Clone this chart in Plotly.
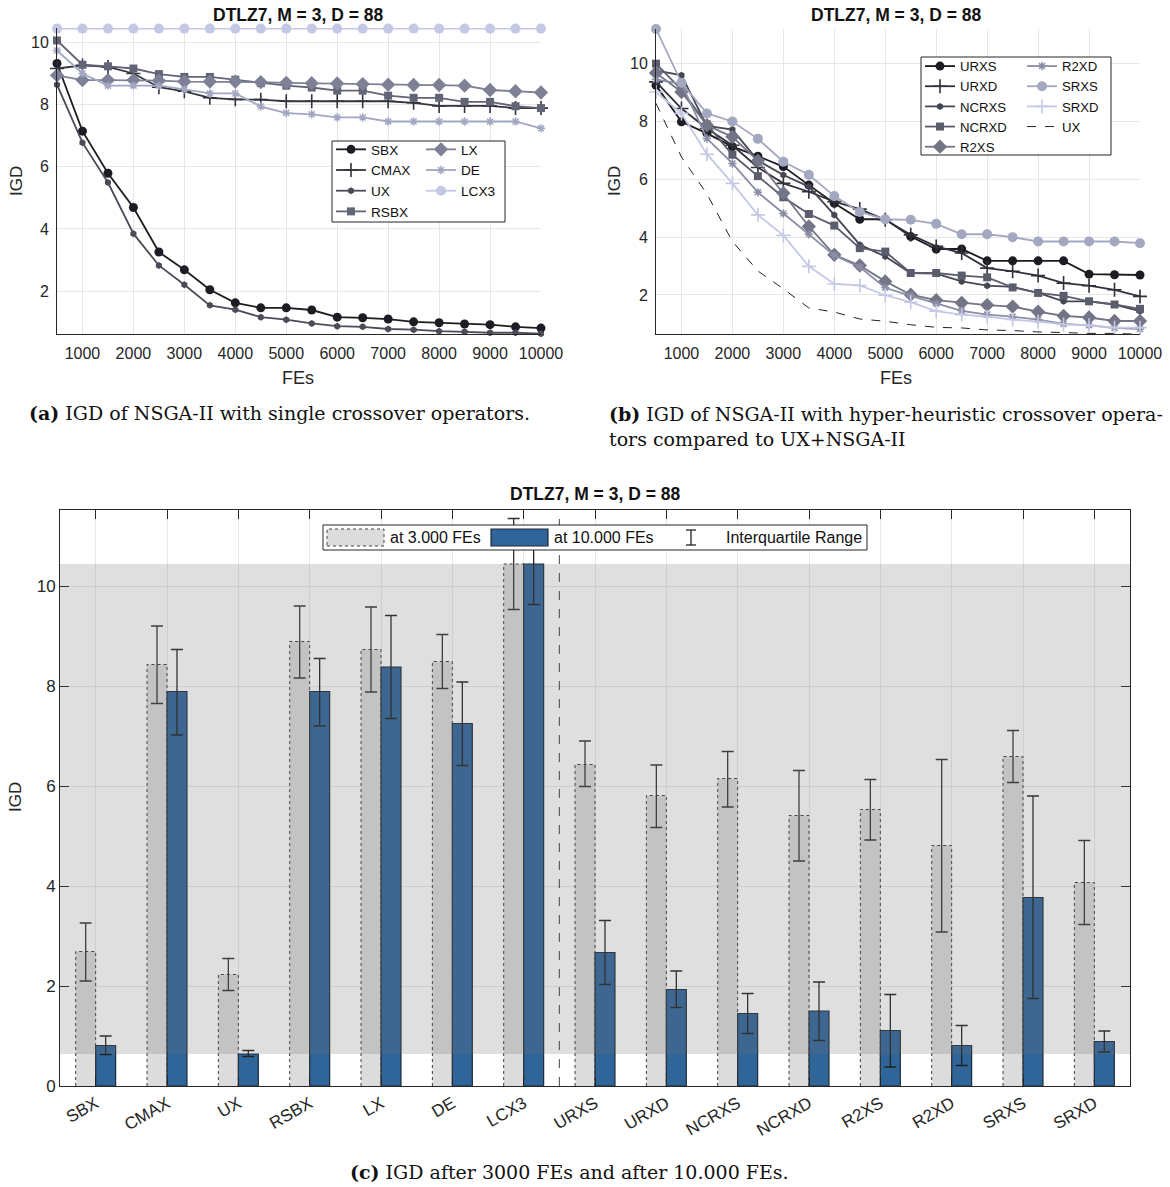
import plotly.graph_objects as go

W, H = 1170, 1187

# ---------------- data ----------------
fes = [500, 1000, 1500, 2000, 2500, 3000, 3500, 4000, 4500, 5000,
       5500, 6000, 6500, 7000, 7500, 8000, 8500, 9000, 9500, 10000]

# panel (a): single crossover operators
sbx = [9.31, 7.14, 5.79, 4.69, 3.26, 2.69, 2.05, 1.63, 1.47, 1.47, 1.40, 1.17, 1.15, 1.11, 1.02, 0.99, 0.95, 0.93, 0.86, 0.82]
cmax = [9.15, 9.25, 9.20, 8.99, 8.55, 8.42, 8.21, 8.16, 8.15, 8.10, 8.10, 8.10, 8.10, 8.10, 8.05, 7.95, 7.95, 7.95, 7.88, 7.88]
ux = [8.63, 6.77, 5.49, 3.85, 2.83, 2.21, 1.55, 1.41, 1.17, 1.09, 0.97, 0.88, 0.86, 0.79, 0.77, 0.72, 0.70, 0.67, 0.67, 0.64]
rsbx = [10.05, 9.27, 9.22, 9.15, 8.97, 8.88, 8.88, 8.79, 8.68, 8.60, 8.54, 8.44, 8.44, 8.28, 8.21, 8.21, 8.08, 8.08, 7.94, 7.88]
lx = [8.93, 8.78, 8.78, 8.78, 8.76, 8.73, 8.73, 8.73, 8.71, 8.69, 8.68, 8.67, 8.65, 8.63, 8.62, 8.62, 8.60, 8.46, 8.42, 8.38]
de = [9.73, 8.99, 8.60, 8.60, 8.60, 8.48, 8.35, 8.35, 7.93, 7.72, 7.68, 7.58, 7.58, 7.45, 7.45, 7.45, 7.45, 7.45, 7.45, 7.23]
lcx3 = [10.43, 10.43, 10.43, 10.43, 10.43, 10.43, 10.43, 10.43, 10.43, 10.43,
        10.43, 10.43, 10.43, 10.43, 10.43, 10.43, 10.43, 10.43, 10.43, 10.43]

# panel (b): hyper-heuristic crossover operators
urxs = [9.25, 7.99, 7.59, 7.13, 6.80, 6.44, 5.80, 5.17, 4.62, 4.62, 4.02, 3.59, 3.59, 3.18, 3.18, 3.18, 3.18, 2.72, 2.70, 2.69]
urxd = [9.37, 8.45, 7.76, 7.18, 6.41, 5.86, 5.57, 5.23, 4.97, 4.60, 4.08, 3.68, 3.45, 2.93, 2.82, 2.67, 2.41, 2.32, 2.18, 1.95]
ncrxs = [9.77, 9.60, 7.85, 7.72, 6.65, 6.15, 5.75, 4.77, 3.74, 3.33, 2.76, 2.74, 2.47, 2.32, 2.28, 2.07, 1.78, 1.78, 1.67, 1.44]
ncrxd = [10.00, 9.10, 7.90, 6.85, 6.11, 5.38, 4.80, 4.40, 3.62, 3.50, 2.76, 2.76, 2.67, 2.61, 2.26, 2.07, 1.97, 1.78, 1.67, 1.52]
r2xs = [9.68, 9.02, 7.87, 7.47, 6.64, 5.52, 4.37, 3.39, 3.02, 2.47, 2.01, 1.82, 1.73, 1.65, 1.60, 1.42, 1.28, 1.22, 1.10, 1.10]
r2xd = [9.45, 9.30, 7.41, 6.55, 5.55, 4.82, 4.10, 3.37, 2.97, 2.25, 1.97, 1.70, 1.45, 1.32, 1.25, 1.15, 1.00, 0.95, 0.86, 0.82]
srxs = [11.20, 9.34, 8.28, 8.00, 7.40, 6.61, 6.16, 5.42, 4.87, 4.62, 4.60, 4.46, 4.10, 4.10, 4.00, 3.85, 3.85, 3.85, 3.85, 3.79]
srxd = [9.02, 8.28, 6.87, 5.86, 4.77, 4.06, 2.99, 2.38, 2.33, 1.99, 1.75, 1.44, 1.32, 1.25, 1.15, 1.08, 0.98, 0.95, 0.87, 0.87]

# panel (c): IGD after 3000 and 10000 FEs with interquartile ranges
cats = ["SBX", "CMAX", "UX", "RSBX", "LX", "DE", "LCX3", "URXS", "URXD",
        "NCRXS", "NCRXD", "R2XS", "R2XD", "SRXS", "SRXD"]
igd3k = [2.69, 8.43, 2.23, 8.89, 8.73, 8.49, 10.44, 6.43, 5.81, 6.15, 5.41, 5.53, 4.81, 6.59, 4.07]
q1_3k = [2.10, 7.65, 1.91, 8.16, 7.88, 7.95, 9.53, 5.99, 5.17, 5.58, 4.50, 4.92, 3.08, 6.07, 3.23]
q3_3k = [3.26, 9.20, 2.55, 9.60, 9.58, 9.03, 11.35, 6.90, 6.42, 6.69, 6.31, 6.13, 6.53, 7.11, 4.91]
igd10k = [0.81, 7.89, 0.64, 7.89, 8.38, 7.25, 10.44, 2.67, 1.93, 1.45, 1.50, 1.11, 0.81, 3.77, 0.89]
q1_10k = [0.63, 7.02, 0.59, 7.20, 7.35, 6.41, 9.63, 2.03, 1.57, 1.05, 0.91, 0.38, 0.41, 1.75, 0.68]
q3_10k = [1.00, 8.73, 0.71, 8.55, 9.41, 8.08, 11.20, 3.31, 2.30, 1.85, 2.08, 1.83, 1.21, 5.80, 1.10]

fe_ticks = [1000, 2000, 3000, 4000, 5000, 6000, 7000, 8000, 9000, 10000]
fe_ticktext = ["1000", "2000", "3000", "4000", "5000", "6000", "7000", "8000", "9000", "10000"]
igd_ticks = [2, 4, 6, 8, 10]
igd_ticks_c = [0, 2, 4, 6, 8, 10]

# ---------------- helpers ----------------
def X(px):
    return px / W

def Y(py):
    return 1 - py / H

FONT = "Liberation Sans, Arial, sans-serif"
SERIF = "DejaVu Serif, Liberation Serif, serif"
TXT = "#262626"

fig = go.Figure()

def line_trace(x, y, name, color, symbol, size, xa, ya, legend, lw=1.8, mlw=0, dash=None, mode="lines+markers"):
    return go.Scatter(
        x=x, y=y, name=name, mode=mode, xaxis=xa, yaxis=ya, legend=legend,
        cliponaxis=False,
        line=dict(color=color, width=lw, dash=dash),
        marker=dict(symbol=symbol, size=size, color=color,
                    line=dict(color=color, width=mlw)),
    )

# panel (a)
a_series = [
    (sbx, "SBX", "#1c1c22", "circle", 9, 0, "legend"),
    (cmax, "CMAX", "#33343d", "cross-thin", 10, 1.6, "legend"),
    (ux, "UX", "#4b4c58", "hexagon", 7, 0, "legend"),
    (rsbx, "RSBX", "#636576", "square", 8, 0, "legend"),
    (lx, "LX", "#7e8196", "diamond", 11, 0, "legend2"),
    (de, "DE", "#a3a6c2", "asterisk", 7, 1.5, "legend2"),
    (lcx3, "LCX3", "#c5c8e5", "circle", 10, 0, "legend2"),
]
for y, name, col, sym, sz, mlw, lg in a_series:
    fig.add_trace(line_trace(fes, y, name, col, sym, sz, "x", "y", lg, mlw=mlw))

# panel (b)
b_series = [
    (urxs, "URXS", "#1c1c22", "circle", 9, 0, "legend3"),
    (urxd, "URXD", "#30313a", "cross-thin", 10, 1.6, "legend3"),
    (ncrxs, "NCRXS", "#454653", "hexagon", 7, 0, "legend3"),
    (ncrxd, "NCRXD", "#5b5d6d", "square", 8, 0, "legend3"),
    (r2xs, "R2XS", "#737587", "diamond", 11, 0, "legend3"),
    (r2xd, "R2XD", "#8b8ea4", "asterisk", 7, 1.5, "legend4"),
    (srxs, "SRXS", "#a4a7c0", "circle", 10, 0, "legend4"),
    (srxd, "SRXD", "#c5c8e5", "cross-thin", 10, 1.6, "legend4"),
]
for y, name, col, sym, sz, mlw, lg in b_series:
    fig.add_trace(line_trace(fes, y, name, col, sym, sz, "x2", "y2", lg, mlw=mlw))
fig.add_trace(line_trace(fes, ux, "UX", "#222222", "circle", 1, "x2", "y2", "legend4",
                         lw=1, dash="dash", mode="lines"))

# panel (c)
pos = list(range(1, len(cats) + 1))
BW = 0.28
fig.add_trace(go.Bar(
    x=pos, y=igd3k, name="at 3.000 FEs", xaxis="x3", yaxis="y3", showlegend=False,
    width=BW, offset=-BW,
    marker=dict(color="#dcdcdc", line=dict(width=0)),
    error_y=dict(type="data", symmetric=False,
                 array=[h - v for h, v in zip(q3_3k, igd3k)],
                 arrayminus=[v - l for v, l in zip(igd3k, q1_3k)],
                 color="#333333", thickness=1.3, width=6),
))
fig.add_trace(go.Bar(
    x=pos, y=igd10k, name="at 10.000 FEs", xaxis="x3", yaxis="y3", showlegend=False,
    width=BW, offset=0,
    marker=dict(color="#30659a", line=dict(width=1.2, color="#1d2a38")),
    error_y=dict(type="data", symmetric=False,
                 array=[h - v for h, v in zip(q3_10k, igd10k)],
                 arrayminus=[v - l for v, l in zip(igd10k, q1_10k)],
                 color="#222222", thickness=1.3, width=6),
))
# dotted outline of the 3000-FE bars (derived from the data)
ox, oy = [], []
for p, v in zip(pos, igd3k):
    ox += [p - BW, p - BW, p, p, None]
    oy += [0, v, v, 0, None]
fig.add_trace(go.Scatter(x=ox, y=oy, mode="lines", xaxis="x3", yaxis="y3", showlegend=False,
                         line=dict(color="#3a3a3a", width=1, dash="dot"), hoverinfo="skip"))

# ---------------- axes ----------------
common_ax = dict(showline=True, linecolor=TXT, linewidth=1, showgrid=True, zeroline=False,
                 automargin=False, tickfont=dict(family=FONT, size=16, color=TXT))
fig.update_layout(
    template="none",
    xaxis=dict(domain=[X(57), X(541)], anchor="y", range=[500, 10000], tickvals=fe_ticks,
               ticktext=fe_ticktext,
               gridcolor="#e6e6e6", ticks="outside", ticklen=5, tickcolor="rgba(0,0,0,0)", **common_ax),
    yaxis=dict(domain=[Y(334), Y(28)], anchor="x", range=[0.63, 10.45], tickvals=igd_ticks,
               gridcolor="#e6e6e6", ticks="outside", ticklen=4, tickcolor="rgba(0,0,0,0)", **common_ax),
    xaxis2=dict(domain=[X(656), X(1140)], anchor="y2", range=[500, 10000], tickvals=fe_ticks,
                ticktext=fe_ticktext,
                gridcolor="#e6e6e6", ticks="outside", ticklen=5, tickcolor="rgba(0,0,0,0)", **common_ax),
    yaxis2=dict(domain=[Y(334), Y(29)], anchor="x2", range=[0.65, 11.2], tickvals=igd_ticks,
                gridcolor="#e6e6e6", ticks="outside", ticklen=4, tickcolor="rgba(0,0,0,0)", **common_ax),
    xaxis3=dict(domain=[X(60), X(1130)], anchor="y3", range=[0.5, 15.5], tickvals=pos, ticktext=cats,
                tickangle=-30, gridcolor="#e8e8e8", mirror="ticks", ticks="inside", ticklen=9,
                tickcolor=TXT, **common_ax),
    yaxis3=dict(domain=[Y(1086), Y(510)], anchor="x3", range=[0, 11.52], tickvals=igd_ticks_c,
                gridcolor="#e8e8e8", mirror="ticks", ticks="inside", ticklen=9, tickcolor=TXT,
                **common_ax),
)
fig.update_layout(xaxis3_tickfont=dict(family=FONT, size=17, color=TXT),
                  yaxis3_tickfont=dict(family=FONT, size=17, color=TXT))

fig.update_layout(
    width=W, height=H, margin=dict(l=0, r=0, t=0, b=0, pad=0), autosize=False,
    paper_bgcolor="white", plot_bgcolor="white",
    barmode="overlay", showlegend=True,
)

def leg(x, y, size):
    return dict(x=x, y=y, bgcolor="rgba(0,0,0,0)", borderwidth=0, xanchor="left", yanchor="top",
                font=dict(family=FONT, size=size, color="#111111"), tracegroupgap=0, itemwidth=30)

fig.update_layout(
    legend=leg(X(331), Y(134), 13.6),
    legend2=leg(X(421), Y(134), 13.6),
    legend3=leg(X(920), Y(51), 13.2),
    legend4=leg(X(1022), Y(51), 13.2),
)

shapes = []
# legend boxes for (a) and (b)
shapes.append(dict(type="rect", xref="paper", yref="paper", x0=X(332), x1=X(505), y0=Y(222), y1=Y(141),
                   fillcolor="white", line=dict(color=TXT, width=1), layer="above"))
shapes.append(dict(type="rect", xref="paper", yref="paper", x0=X(921), x1=X(1111), y0=Y(155), y1=Y(57),
                   fillcolor="white", line=dict(color=TXT, width=1), layer="above"))
# gray band between best and worst final IGD (drawn on top of bars)
shapes.append(dict(type="rect", xref="x3 domain", yref="y3", x0=0, x1=1,
                   y0=min(igd10k), y1=max(igd10k),
                   fillcolor="rgba(110,110,110,0.22)", line=dict(width=0), layer="above"))
# separator between single and hyper-heuristic operators
shapes.append(dict(type="line", xref="x3", yref="y3", x0=7.5, x1=7.5, y0=0, y1=11.52,
                   line=dict(color="#444444", width=1, dash="dash"), layer="above"))
# manual legend for (c)
shapes.append(dict(type="rect", xref="paper", yref="paper", x0=X(323), x1=X(867), y0=Y(550), y1=Y(525),
                   fillcolor="white", line=dict(color=TXT, width=1), layer="above"))
shapes.append(dict(type="rect", xref="paper", yref="paper", x0=X(327), x1=X(384), y0=Y(546), y1=Y(529),
                   fillcolor="#dcdcdc", line=dict(color="#444444", width=1, dash="dot"), layer="above"))
shapes.append(dict(type="rect", xref="paper", yref="paper", x0=X(491), x1=X(548), y0=Y(546), y1=Y(529),
                   fillcolor="#30659a", line=dict(color="#1d2a38", width=1.2), layer="above"))
for (x0, y0, x1, y1) in [(691, 530, 691, 545), (686, 530, 696, 530), (686, 545, 696, 545)]:
    shapes.append(dict(type="line", xref="paper", yref="paper", x0=X(x0), x1=X(x1), y0=Y(y0), y1=Y(y1),
                       line=dict(color="#222222", width=1.3), layer="above"))
fig.update_layout(shapes=shapes)

ann = []
def text(px, py, s, size=16, bold=False, family=FONT, xanchor="center", yanchor="middle", angle=0, color=TXT,
         align="center"):
    ann.append(dict(x=X(px), y=Y(py), xref="paper", yref="paper", text=(f"<b>{s}</b>" if bold else s),
                    showarrow=False, xanchor=xanchor, yanchor=yanchor, textangle=angle, align=align,
                    font=dict(family=family, size=size, color=color)))

title = "DTLZ7, M = 3, D = 88"
text(298, 15, title, size=17.5, bold=True, color="#111111")
text(896, 15, title, size=17.5, bold=True, color="#111111")
text(595, 494, title, size=17.5, bold=True, color="#111111")
text(17, 181, "IGD", size=17, angle=-90)
text(615, 181, "IGD", size=17, angle=-90)
text(15, 797, "IGD", size=17, angle=-90)
text(298, 378, "FEs", size=18)
text(896, 378, "FEs", size=18)
text(388, 538, "at 3.000 FEs", size=16, xanchor="left", color="#111111")
text(552, 538, "at 10.000 FEs", size=16, xanchor="left", color="#111111")
text(724, 538, "Interquartile Range", size=16, xanchor="left", color="#111111")
text(279, 413, "<b>(a)</b> IGD of NSGA-II with single crossover operators.", size=19, family=SERIF,
     color="#111111")
text(607, 426, "<b>(b)</b> IGD of NSGA-II with hyper-heuristic crossover opera-<br>tors compared to UX+NSGA-II",
     size=19, family=SERIF, xanchor="left", align="left", color="#111111")
text(569, 1172, "<b>(c)</b> IGD after 3000 FEs and after 10.000 FEs.", size=19, family=SERIF, color="#111111")
fig.update_layout(annotations=ann)

fig.write_html("out.html")
